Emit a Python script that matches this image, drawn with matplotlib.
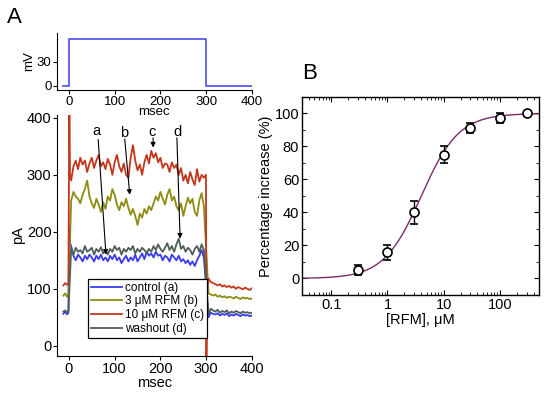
import numpy as np
import matplotlib
matplotlib.use("Agg")
from matplotlib import pyplot as plt
from matplotlib.ticker import LogLocator, MultipleLocator, NullFormatter

plt.rcParams['font.family'] = ['Liberation Sans', 'DejaVu Sans']

# --- voltage protocol (top of A)
step_t = [-13, 0, 0, 300, 300, 400]
step_mv = [0, 0, 58, 58, 0, 0]

# --- current traces (A), pA
pre_t = [-12, -8, -4, -1]
main_t = list(range(5, 300, 5))
tail_t = list(range(305, 401, 5))

pre_c = [106, 110, 107, 109]
pre_b = [88, 92, 86, 90]
pre_d = [60, 62, 58, 61]
pre_a = [56, 60, 55, 58]

trace_c = [290, 315, 325, 310, 330, 318, 325, 305, 320, 330, 312, 325, 335, 315, 322,
           310, 328, 318, 300, 322, 335, 315, 305, 320, 300, 295, 330, 352, 325, 308,
           318, 300, 322, 335, 320, 342, 330, 338, 322, 330, 312, 320, 318, 305, 322,
           312, 318, 300, 312, 290, 300, 285, 305, 292, 282, 310, 288, 300, 295]
trace_b = [255, 270, 262, 258, 250, 265, 275, 290, 262, 250, 242, 258, 248, 235, 252,
           240, 262, 255, 275, 265, 248, 238, 252, 245, 258, 242, 230, 240, 228, 212,
           232, 225, 240, 232, 245, 238, 250, 262, 255, 270, 258, 248, 265, 275, 255,
           262, 245, 238, 250, 228, 245, 260, 250, 258, 235, 228, 255, 268, 245]
trace_d = [170, 160, 172, 165, 168, 162, 175, 165, 168, 172, 160, 170, 165, 173, 162,
           168, 160, 170, 165, 175, 168, 172, 160, 170, 165, 172, 168, 175, 162, 170,
           165, 172, 168, 163, 170, 165, 175, 168, 178, 170, 165, 172, 180, 168, 175,
           165, 178, 188, 170, 175, 165, 172, 168, 160, 170, 175, 165, 178, 168]
trace_a = [175, 158, 150, 160, 155, 148, 158, 152, 160, 155, 148, 158, 152, 160, 150,
           155, 148, 158, 152, 160, 150, 155, 145, 152, 158, 148, 155, 150, 160, 148,
           155, 162, 152, 165, 158, 162, 155, 165, 158, 160, 150, 158, 155, 148, 160,
           155, 150, 158, 148, 152, 145, 150, 142, 148, 140, 150, 158, 168, 155]

tail_c = [118, 112, 110, 108, 106, 108, 104, 106, 103, 105, 102, 104, 100, 103, 101, 99, 102, 100, 98, 101]
tail_b = [92, 90, 88, 90, 86, 88, 85, 87, 84, 86, 85, 83, 86, 84, 82, 85, 83, 84, 82, 83]
tail_d = [55, 65, 62, 60, 63, 58, 61, 59, 62, 57, 60, 58, 61, 59, 57, 60, 58, 59, 57, 58]
tail_a = [50, 58, 56, 55, 57, 53, 56, 54, 57, 52, 55, 53, 56, 54, 52, 55, 53, 54, 52, 53]

# capacitive transients
on_t, on_c, on_a = [1, 2.5], [430, 300], [210, 180]
off_t, off_c = [299.5, 300.5, 302], [300, -30, 100]

labels = ['control (a)', '3 \u03bcM RFM (b)', '10 \u03bcM RFM (c)', 'washout (d)']
colors = ['#3a3af0', '#8c8c14', '#c4361c', '#4f5e56']

# --- dose response (B)
conc = [0.3, 1, 3, 10, 30, 100, 300]
pct = [5, 16, 40, 75, 91, 97, 100]
pct_err = [3, 4.5, 7, 5, 3, 3, 0]
ec50 = 4.0
hill_n = 1.3

fig = plt.figure(figsize=(5.5, 3.98), dpi=100)

# top: voltage step
axv = fig.add_axes([0.1036, 0.774, 0.3545, 0.143])
axv.plot(step_t, step_mv, color='#4a4af0', lw=1.2)
axv.set_xlim(-26, 400)
axv.set_ylim(-5, 66)
axv.set_xticks([0, 100, 200, 300, 400])
axv.set_yticks([0, 30])
axv.set_ylabel('mV', fontsize=9.5, labelpad=1)
axv.set_xlabel('msec', fontsize=9.5, labelpad=-1)
for s in ['top', 'right']:
    axv.spines[s].set_visible(False)
axv.tick_params(labelsize=9.5, length=3, pad=1)

# main: currents
ax = fig.add_axes([0.1036, 0.1055, 0.3545, 0.6055])
tt = pre_t + main_t + tail_t
for lab, col, pre, tr, tl in zip(labels, colors,
                                 [pre_a, pre_b, pre_c, pre_d],
                                 [trace_a, trace_b, trace_c, trace_d],
                                 [tail_a, tail_b, tail_c, tail_d]):
    if tr is trace_c:
        x = pre_t + on_t + main_t + off_t + tail_t
        y = pre + on_c + tr + off_c + tl
    elif tr is trace_a:
        x = pre_t + on_t + main_t + tail_t
        y = pre + on_a + tr + tl
    else:
        x = tt
        y = pre + tr + tl
    ax.plot(x, y, color=col, lw=1.3, label=lab)

ax.set_xlim(-26, 400)
ax.set_ylim(-18, 405)
ax.set_xticks([0, 100, 200, 300, 400])
ax.set_yticks([0, 100, 200, 300, 400])
ax.set_xlabel('msec', fontsize=10.5, labelpad=0)
ax.set_ylabel('pA', fontsize=10.5, labelpad=1)
for s in ['top', 'right']:
    ax.spines[s].set_visible(False)
ax.tick_params(labelsize=10.5, length=3, pad=1)

# a-d arrows
arrows = [('a', (61, 377), (64, 362), (81, 160)),
          ('b', (120, 373), (122, 363), (133, 265)),
          ('c', (182, 375), (184, 365), (184, 348)),
          ('d', (238, 375), (236, 365), (243, 188))]
for txt, tpos, a0, a1 in arrows:
    ax.text(tpos[0], tpos[1], txt, fontsize=10.5, ha='center', va='center')
    ax.annotate('', xy=a1, xytext=a0,
                arrowprops=dict(arrowstyle='-|>', color='black', lw=0.8,
                                mutation_scale=7, shrinkA=0, shrinkB=0))

leg = ax.legend(loc='lower left', bbox_to_anchor=(0.16, 0.075), fontsize=8.5,
                frameon=True, fancybox=False, edgecolor='black', framealpha=1,
                handlelength=2.6, borderpad=0.25, labelspacing=0.15,
                handletextpad=0.3, borderaxespad=0)
leg.get_frame().set_linewidth(0.9)

fig.text(0.012, 0.955, 'A', fontsize=16, va='center', ha='left')

# B: dose response
axb = fig.add_axes([0.549, 0.2588, 0.431, 0.4975])
xs = np.logspace(np.log10(0.03), np.log10(500), 300)
axb.plot(xs, 100 * xs ** hill_n / (xs ** hill_n + ec50 ** hill_n), color='#7b2d6b', lw=1.0)
axb.errorbar(conc, pct, yerr=pct_err, fmt='o', mfc='white', mec='black', mew=1.2,
             ms=6.5, ecolor='black', elinewidth=1.0, capsize=3, capthick=1.0)
axb.set_xscale('log')
axb.set_xlim(0.03, 500)
axb.set_ylim(-10, 110)
axb.set_xticks([0.1, 1, 10, 100])
axb.set_xticklabels(['0.1', '1', '10', '100'])
axb.xaxis.set_minor_locator(LogLocator(base=10, subs=np.arange(2, 10)))
axb.xaxis.set_minor_formatter(NullFormatter())
axb.set_yticks([0, 20, 40, 60, 80, 100])
axb.yaxis.set_minor_locator(MultipleLocator(10))
axb.tick_params(which='both', direction='in', top=True, right=True, labelsize=10.5, pad=2)
axb.tick_params(which='major', length=3.5)
axb.tick_params(which='minor', length=2)
for s in axb.spines.values():
    s.set_linewidth(1.0)
axb.set_xlabel('[RFM], \u03bcM', fontsize=10.5, labelpad=1)
axb.set_ylabel('Percentage increase (%)', fontsize=10.5, labelpad=1)

fig.text(0.549, 0.815, 'B', fontsize=16, va='center', ha='left')

fig.savefig('out.png', dpi=100)
